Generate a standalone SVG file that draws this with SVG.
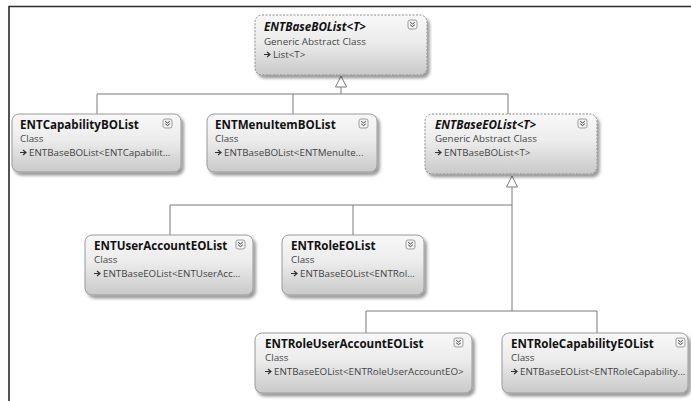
<svg xmlns="http://www.w3.org/2000/svg" width="691" height="401" viewBox="0 0 691 401">
  <defs>
    <linearGradient id="fillGrad" x1="0" y1="0" x2="0" y2="1">
      <stop offset="0" stop-color="#f8f8f8"/>
      <stop offset="0.45" stop-color="#ececec"/>
      <stop offset="1" stop-color="#c9c9c9"/>
    </linearGradient>
    <filter id="shadow" x="-10%" y="-10%" width="130%" height="140%">
      <feDropShadow dx="2.5" dy="3" stdDeviation="1.5" flood-color="#000" flood-opacity="0.4"/>
    </filter>
    <!-- collapse toggle: rounded square with double chevron -->
    <g id="toggle">
      <rect x="0" y="0" width="9" height="9" rx="2" fill="#f4f4f4" stroke="#888" stroke-width="0.8"/>
      <path d="M2.2 2.2 L4.5 4 L6.8 2.2 M2.2 4.8 L4.5 6.6 L6.8 4.8" fill="none" stroke="#444" stroke-width="1"/>
    </g>
    <!-- inheritance icon before the base type -->
    <g id="inh">
      <path d="M0 -3.5 H5.5 M3 -6 L6 -3.5 L3 -1" fill="none" stroke="#333" stroke-width="1.2"/>
    </g>
  </defs>
  <style>
    .box { fill: url(#fillGrad); stroke: #9a9a9a; stroke-width: 1; filter: url(#shadow); }
    .abstract { stroke-dasharray: 2 1.5; stroke: #8a8a8a; }
    .title { font-family: "Open Sans", "Noto Sans", sans-serif; font-weight: bold; font-size: 11.6px; fill: #111; }
    .ital { font-style: italic; }
    .sub { font-family: "Open Sans", "Noto Sans", sans-serif; font-size: 9.8px; fill: #444; }
    .conn { fill: none; stroke: #7a7a7a; stroke-width: 1; }
    .tri { fill: #fff; stroke: #7a7a7a; stroke-width: 1; }
  </style>

  <rect x="0" y="0" width="691" height="401" fill="#fff"/>
  <!-- outer frame -->
  <path d="M9 401 V6.5 H691" fill="none" stroke="#2a2a2a" stroke-width="1.6"/>

  <g id="connectors">
    <!-- BO list hierarchy -->
    <path class="conn" d="M341 87 V94 M97 94 H508 M97 94 V114 M293 94 V114 M508 94 V114"/>
    <path class="tri" d="M341 76 L346.5 87 L335.5 87 Z"/>
    <!-- EO list hierarchy -->
    <path class="conn" d="M512 187 V311 M170 205 H512 M170 205 V235 M353 205 V235 M366 311 H597 M366 311 V333 M597 311 V333"/>
    <path class="tri" d="M512 176 L517.5 187 L506.5 187 Z"/>
  </g>

  <g id="ENTBaseBOList">
    <rect class="box abstract" x="255" y="15" width="172" height="60" rx="7"/>
    <text class="title ital" x="264" y="31">ENTBaseBOList&lt;T&gt;</text>
    <text class="sub" x="264" y="45">Generic Abstract Class</text>
    <use href="#inh" x="264" y="58"/>
    <text class="sub" x="273" y="58">List&lt;T&gt;</text>
    <use href="#toggle" x="408" y="20"/>
  </g>

  <g id="ENTCapabilityBOList">
    <rect class="box" x="12" y="114" width="169" height="58" rx="7"/>
    <text class="title" x="20" y="129">ENTCapabilityBOList</text>
    <text class="sub" x="20" y="142">Class</text>
    <use href="#inh" x="20" y="156"/>
    <text class="sub" x="29" y="156">ENTBaseBOList&lt;ENTCapabilit...</text>
    <use href="#toggle" x="163" y="119"/>
  </g>

  <g id="ENTMenuItemBOList">
    <rect class="box" x="207" y="114" width="170" height="58" rx="7"/>
    <text class="title" x="215" y="129">ENTMenuItemBOList</text>
    <text class="sub" x="215" y="142">Class</text>
    <use href="#inh" x="215" y="156"/>
    <text class="sub" x="224" y="156">ENTBaseBOList&lt;ENTMenuIte...</text>
    <use href="#toggle" x="359" y="119"/>
  </g>

  <g id="ENTBaseEOList">
    <rect class="box abstract" x="425" y="114" width="172" height="60" rx="7"/>
    <text class="title ital" x="435" y="129">ENTBaseEOList&lt;T&gt;</text>
    <text class="sub" x="435" y="142">Generic Abstract Class</text>
    <use href="#inh" x="435" y="156"/>
    <text class="sub" x="444" y="156">ENTBaseBOList&lt;T&gt;</text>
    <use href="#toggle" x="578" y="119"/>
  </g>

  <g id="ENTUserAccountEOList">
    <rect class="box" x="85" y="235" width="168" height="60" rx="7"/>
    <text class="title" x="94" y="250">ENTUserAccountEOList</text>
    <text class="sub" x="94" y="263">Class</text>
    <use href="#inh" x="94" y="277"/>
    <text class="sub" x="103" y="277">ENTBaseEOList&lt;ENTUserAcc...</text>
    <use href="#toggle" x="236" y="240"/>
  </g>

  <g id="ENTRoleEOList">
    <rect class="box" x="282" y="235" width="142" height="60" rx="7"/>
    <text class="title" x="291" y="250">ENTRoleEOList</text>
    <text class="sub" x="291" y="263">Class</text>
    <use href="#inh" x="291" y="277"/>
    <text class="sub" x="300" y="277">ENTBaseEOList&lt;ENTRol...</text>
    <use href="#toggle" x="406" y="240"/>
  </g>

  <g id="ENTRoleUserAccountEOList">
    <rect class="box" x="255" y="333" width="217" height="60" rx="7"/>
    <text class="title" x="265" y="348">ENTRoleUserAccountEOList</text>
    <text class="sub" x="265" y="361">Class</text>
    <use href="#inh" x="265" y="375"/>
    <text class="sub" x="274" y="375">ENTBaseEOList&lt;ENTRoleUserAccountEO&gt;</text>
    <use href="#toggle" x="454" y="338"/>
  </g>

  <g id="ENTRoleCapabilityEOList">
    <rect class="box" x="502" y="333" width="186" height="60" rx="7"/>
    <text class="title" x="511" y="348">ENTRoleCapabilityEOList</text>
    <text class="sub" x="511" y="361">Class</text>
    <use href="#inh" x="511" y="375"/>
    <text class="sub" x="520" y="375">ENTBaseEOList&lt;ENTRoleCapability...</text>
    <use href="#toggle" x="676" y="338"/>
  </g>
</svg>
